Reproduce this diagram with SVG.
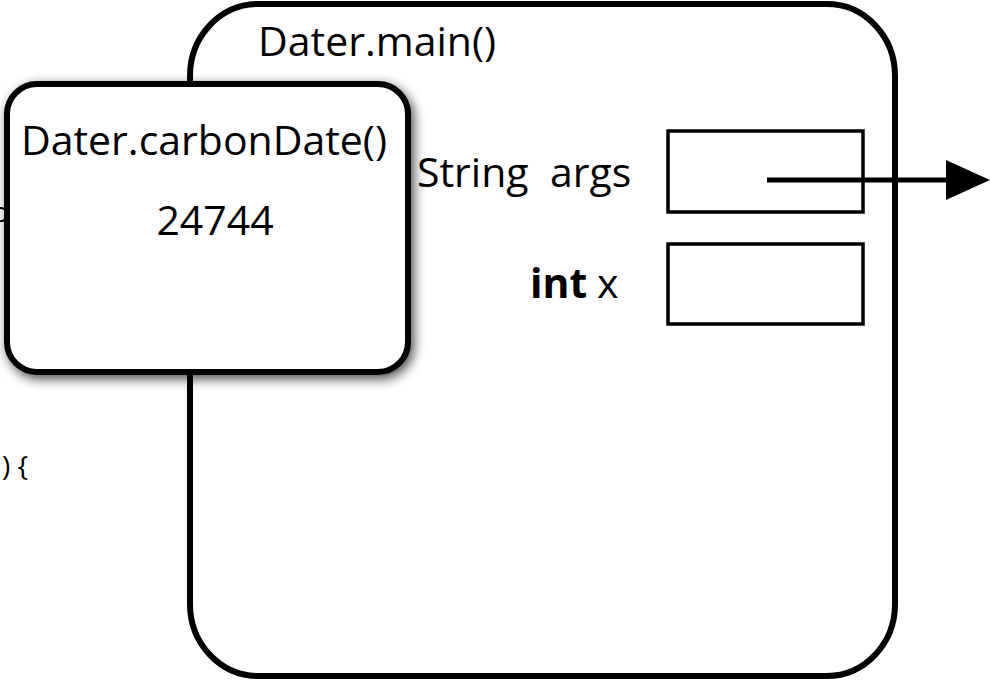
<svg xmlns="http://www.w3.org/2000/svg" width="990" height="681" viewBox="0 0 990 681">
<style>
.t{font-family:"Open Sans","Noto Sans",sans-serif;font-size:41px;fill:#000}
.frame{fill:#fff;stroke:#000;stroke-width:6}
.slot{fill:#fff;stroke:#000;stroke-width:3.5}
</style>
<defs>
<filter id="sh" x="-10%" y="-10%" width="125%" height="130%">
<feDropShadow dx="3" dy="4" stdDeviation="6" flood-color="#000" flood-opacity="0.7"/>
</filter>
</defs>
<rect width="990" height="681" fill="#fff"/>
<g id="code-fragments">
<text class="t" x="9" y="222" text-anchor="end" style="font-size:28px">o</text>
<text class="t" x="28" y="476" text-anchor="end" style="font-size:28px">) {</text>
</g>
<g id="main-frame">
<rect class="frame" x="190" y="4" width="705" height="672" rx="68" ry="72"/>
<text class="t" x="258" y="56">Dater.main()</text>
<text class="t" x="417" y="187" xml:space="preserve">String  args</text>
<text class="t" x="530" y="298" style="font-weight:bold">int</text>
<text class="t" x="597" y="298">x</text>
<rect id="args-slot" class="slot" x="668" y="131" width="195" height="81"/>
<rect id="x-slot" class="slot" x="668" y="244" width="195" height="80"/>
</g>
<g id="carbonDate-frame">
<rect class="frame" x="7" y="84" width="401" height="288" rx="30" ry="30" filter="url(#sh)"/>
<text class="t" x="204" y="155" text-anchor="middle">Dater.carbonDate()</text>
<text class="t" x="215" y="235" text-anchor="middle">24744</text>
</g>
<g id="connectors">
<line x1="767" y1="180" x2="948" y2="180" stroke="#000" stroke-width="5"/>
<polygon points="946,160 990,180 946,200" fill="#000"/>
</g>
</svg>
